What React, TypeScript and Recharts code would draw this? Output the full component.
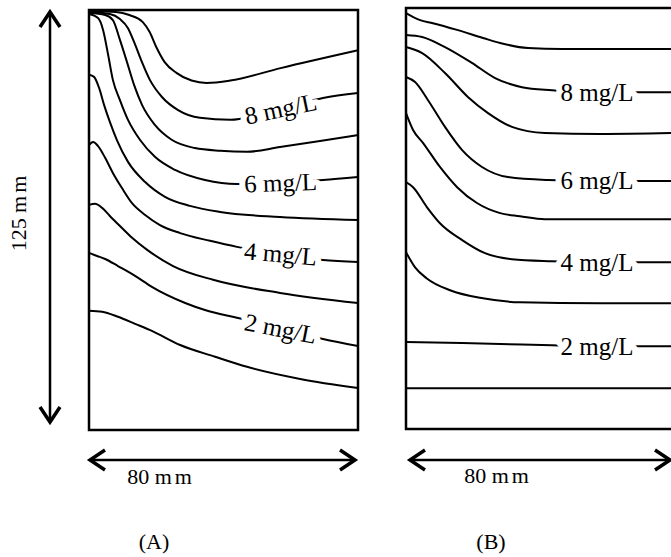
import React from 'react';
import { LineChart, Line, XAxis, YAxis, ReferenceArea, ReferenceDot } from 'recharts';

// x = distance across the tank (mm), y = depth below the top (mm)
// panel A contours, top (9 mg/L) to bottom (1 mg/L)
const A9 = [[0, 0.3], [8, 0.6], [12, 1.5], [16, 3.6], [18, 6.5], [20, 11], [22.5, 15.5], [26, 18.7], [30.5, 21], [35, 21.7], [42, 21], [57, 17.3], [80, 12]];
const A8 = [[0, 0.6], [6.2, 1.2], [9.2, 2.7], [11.6, 5.4], [13.4, 9.5], [15.5, 14.9], [18.1, 20.8], [21.7, 25.9], [26.5, 29.8], [33, 32.1], [42, 32.7], [51, 30.9], [60, 28.6], [69.6, 26.2], [80, 24.7]];
const A7 = [[0, 0.9], [4.8, 1.5], [7.1, 3], [9.2, 8.9], [11.3, 15.5], [13.4, 22.3], [15.8, 28.3], [19.6, 34.2], [24.7, 38.7], [31.5, 41.1], [39, 41.9], [47, 42.2], [56.8, 40.8], [68.7, 39], [80, 37.2]];
const A6 = [[0, 1.2], [2.7, 2.4], [4.2, 6], [5.7, 13.4], [7.1, 20.8], [9.2, 26.8], [11.6, 32.7], [15.2, 38.7], [19.6, 43.7], [25.6, 47.6], [34.5, 50.6], [44, 51.8], [53.8, 51.5], [69.6, 50.6], [80, 49.7]];
const A5 = [[0, 19.3], [1.5, 19.9], [3, 23.2], [4.5, 28.3], [6.2, 33.3], [8.3, 38.7], [11.6, 45.2], [16.7, 51.2], [22.6, 55.6], [30, 58.3], [39, 60.1], [56.8, 61.6], [80, 62.5]];
const A4 = [[0, 40.2], [1.2, 39.3], [2.7, 40.5], [4.8, 44], [7.1, 48.5], [9.8, 53], [12.8, 57.5], [16.7, 61], [21.1, 64], [27.1, 66.4], [36, 68.7], [44, 70.5], [56.8, 72.6], [69.6, 74.4], [80, 75]];
const A3 = [[0, 58], [1.8, 57.7], [3.9, 58.9], [6.2, 61.3], [9.2, 64.3], [12.8, 67.8], [17.3, 71.4], [25, 76.2], [36.9, 80.3], [56.8, 84.2], [80, 87.2]];
const A2 = [[0, 72.3], [2.4, 73.2], [4.8, 74.1], [8.6, 76.2], [13.7, 79.1], [18.7, 82.4], [28.6, 87.2], [34.5, 89.3], [44, 91.6], [56.8, 94.6], [69.6, 97.9], [80, 100]];
const A1 = [[0, 89.5], [3.9, 89.8], [8.6, 91.3], [13.7, 93.4], [18.7, 95.5], [27.1, 99.7], [37.5, 103.2], [47, 106.2], [62.8, 109.8], [80, 112.5]];

// panel B contours
const B9 = [[0, 1.5], [4.2, 3.6], [8, 4.5], [15.2, 6.5], [22.9, 8.9], [28, 10.4], [36.3, 11.9], [46.4, 12.2], [69.6, 12.2], [80, 12.2]];
const B8 = [[0, 8], [4.8, 8.6], [11.6, 11.6], [19.6, 16.3], [26.5, 20.8], [34.5, 23.5], [43.4, 24.4], [56.8, 25], [69, 25], [80, 25]];
const B7 = [[0, 11.6], [4.8, 13.4], [11.6, 19.3], [18.4, 26.4], [24.4, 31.2], [31.5, 35.3], [41.3, 37.1], [57.7, 37.4], [80, 37.1]];
const B6 = [[0, 20.5], [2.7, 22], [6.5, 27.3], [11.6, 35.3], [16.7, 42.2], [22.6, 47.2], [30.3, 50.2], [42.2, 51.1], [56.8, 51.4], [80, 51.4]];
const B5 = [[0, 31.2], [2.1, 36.2], [5.1, 40.1], [10.1, 47.2], [15.2, 53.2], [21.1, 57.9], [28, 60.9], [33.9, 61.8], [41.3, 62.7], [80, 62.7]];
const B4 = [[0, 51.7], [2.1, 53.2], [6.2, 59.1], [10.1, 63.9], [16.7, 68.9], [23.5, 72.8], [31.5, 74.6], [43.4, 75.2], [57.7, 75.5], [80, 75.5]];
const B3 = [[0, 72.5], [2.7, 77], [6.2, 80.3], [13.1, 83.8], [22.9, 86.2], [33.9, 87.4], [57.7, 87.7], [80, 87.7]];
const B2 = [[0, 99.2], [16.7, 99.5], [43.4, 100.1], [57.7, 100.4], [80, 100.4]];
const B1 = [[0, 112.9], [80, 112.9]];

// contour labels: [text, x, y, angle]
const labelsA = [['8 mg/L', 57, 29.4, -12], ['6 mg/L', 57, 51.4, -2], ['4 mg/L', 57, 72.6, 5], ['2 mg/L', 57, 94.8, 11]];
const labelsB = [['8 mg/L', 56.8, 25, 0], ['6 mg/L', 56.8, 51.3, 0], ['4 mg/L', 56.8, 75.6, 0], ['2 mg/L', 56.8, 100.4, 0]];

const linesA = [A9, A8, A7, A6, A5, A4, A3, A2, A1];
const linesB = [B9, B8, B7, B6, B5, B4, B3, B2, B1];

const serif = '"Liberation Serif", "Times New Roman", serif';

const toPts = (arr: number[][]) => arr.map(([x, y]) => ({ x, y }));

const MgLabel = ({ cx, cy, text, angle }: any) => (
  <text
    x={cx}
    y={cy}
    transform={`rotate(${angle} ${cx} ${cy})`}
    textAnchor="middle"
    dominantBaseline="central"
    fontFamily={serif}
    fontSize={25}
    fill="#000"
    stroke="#fff"
    strokeWidth={12}
    strokeLinejoin="round"
    paintOrder="stroke"
  >
    {text}
  </text>
);

const Panel = ({ lines, labels, left, top, height }: any) => (
  <div style={{ position: 'absolute', left, top }}>
    <LineChart width={275} height={height} margin={{ top: 3, right: 3, bottom: 3, left: 3 }}>
      <XAxis hide type="number" dataKey="x" domain={[0, 80]} />
      <YAxis hide type="number" domain={[0, 125]} reversed />
      {lines.map((l: number[][], i: number) => (
        <Line
          key={i}
          data={toPts(l)}
          dataKey="y"
          type="monotone"
          stroke="#000"
          strokeWidth={2}
          dot={false}
          activeDot={false}
          isAnimationActive={false}
        />
      ))}
      {labels.map((lb: any[], i: number) => (
        <ReferenceDot
          key={'l' + i}
          x={lb[1]}
          y={lb[2]}
          r={0}
          ifOverflow="visible"
          shape={(p: any) => <MgLabel cx={p.cx} cy={p.cy} text={lb[0]} angle={lb[3]} />}
        />
      ))}
      <ReferenceArea x1={0} x2={80} y1={0} y2={125} fill="none" stroke="#000" strokeWidth={2.5} ifOverflow="visible" />
    </LineChart>
  </div>
);

const Arrow = ({ x1, y1, x2, y2 }: any) => {
  const dx = x2 - x1;
  const dy = y2 - y1;
  const len = Math.hypot(dx, dy);
  const ux = dx / len;
  const uy = dy / len;
  const head = (tx: number, ty: number, s: number) =>
    `${tx - s * ux * 15 + uy * 10},${ty - s * uy * 15 - ux * 10} ${tx},${ty} ${tx - s * ux * 15 - uy * 10},${ty - s * uy * 15 + ux * 10}`;
  return (
    <g stroke="#000" fill="none" strokeWidth={3.5}>
      <line x1={x1 + ux * 2} y1={y1 + uy * 2} x2={x2 - ux * 2} y2={y2 - uy * 2} strokeWidth={2.5} />
      <polyline points={head(x1, y1, -1)} />
      <polyline points={head(x2, y2, 1)} />
    </g>
  );
};

export default function App() {
  return (
    <div style={{ position: 'absolute', left: 0, top: 0, width: 671, height: 557, overflow: 'hidden', background: '#fff' }}>
      <svg width={671} height={557} style={{ position: 'absolute', left: 0, top: 0 }}>
        <Arrow x1={50} y1={12} x2={50} y2={422} />
        <text
          x={18}
          y={212}
          transform="rotate(-90 18 212)"
          textAnchor="middle"
          dominantBaseline="central"
          fontFamily={serif}
          fontSize={22}
        >
          125 <tspan letterSpacing={3}>mm</tspan>
        </text>
        <Arrow x1={90} y1={460} x2={355} y2={460} />
        <Arrow x1={410} y1={460} x2={670} y2={460} />
        <text x={161} y={484} textAnchor="middle" fontFamily={serif} fontSize={22}>
          80 <tspan letterSpacing={3}>mm</tspan>
        </text>
        <text x={498} y={483} textAnchor="middle" fontFamily={serif} fontSize={22}>
          80 <tspan letterSpacing={3}>mm</tspan>
        </text>
        <text x={154} y={549} textAnchor="middle" fontFamily={serif} fontSize={22}>(A)</text>
        <text x={491} y={549} textAnchor="middle" fontFamily={serif} fontSize={22}>(B)</text>
      </svg>
      <Panel lines={linesA} labels={labelsA} left={86} top={7} height={426} />
      <Panel lines={linesB} labels={labelsB} left={403} top={5} height={427} />
    </div>
  );
}
